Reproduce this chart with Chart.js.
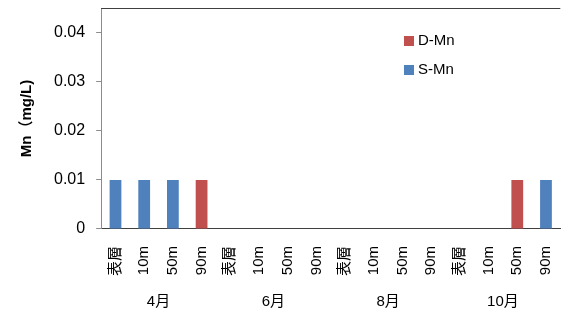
<!DOCTYPE html>
<html>
<head>
<meta charset="utf-8">
<script src="https://cdn.jsdelivr.net/npm/chart.js@4/dist/chart.umd.min.js"></script>
<style>
  html, body { margin: 0; padding: 0; background: #fff; }
  #wrap { width: 573px; height: 312px; }
</style>
</head>
<body>
<div id="wrap"><canvas id="mnChart" width="573" height="312"></canvas></div>
<script>
const depths = ['表層', '10m', '50m', '90m'];
const months = ['4月', '6月', '8月', '10月'];
const categories = months.flatMap(() => depths);
// values in mg/L, one per month/depth
const sMn = [0.01, 0.01, 0.01, 0, 0, 0, 0, 0, 0, 0, 0, 0, 0, 0, 0, 0.01];
const dMn = [0, 0, 0, 0.01, 0, 0, 0, 0, 0, 0, 0, 0, 0, 0, 0.01, 0];
const yTicks = [0, 0.01, 0.02, 0.03, 0.04];

const fontMain = "'Liberation Sans', 'Noto Sans CJK JP', sans-serif";
const axisColor = '#8c8c8c';
const frameColor = '#404040';

// legend drawn at a fixed spot inside the plot, like the original
const boxLegend = {
    id: 'boxLegend',
    afterDraw(chart) {
        const ctx = chart.ctx;
        const items = chart.data.datasets.slice().reverse();
        ctx.save();
        ctx.font = '15px ' + fontMain;
        ctx.textBaseline = 'middle';
        items.forEach((ds, i) => {
            const y = 41 + i * 29;
            ctx.fillStyle = ds.backgroundColor;
            ctx.fillRect(404, y - 5, 10, 10);
            ctx.fillStyle = '#000';
            ctx.fillText(ds.label, 418, y);
        });
        ctx.restore();
    }
};

const topBorder = {
    id: 'topBorder',
    afterDraw(chart) {
        const { ctx, chartArea } = chart;
        ctx.save();
        ctx.strokeStyle = frameColor;
        ctx.lineWidth = 1;
        ctx.beginPath();
        ctx.moveTo(chartArea.left, chartArea.top + 0.5);
        ctx.lineTo(chartArea.right, chartArea.top + 0.5);
        ctx.stroke();
        ctx.restore();
    }
};

new Chart(document.getElementById('mnChart'), {
    type: 'bar',
    data: {
        labels: categories,
        datasets: [
            { label: 'S-Mn', data: sMn, backgroundColor: '#4F81BD' },
            { label: 'D-Mn', data: dMn, backgroundColor: '#C0504D' }
        ]
    },
    options: {
        responsive: false,
        animation: false,
        layout: { padding: { top: 8, right: 1, left: 18, bottom: 1 } },
        datasets: { bar: { barPercentage: 0.41, categoryPercentage: 1 } },
        plugins: {
            legend: { display: false },
            tooltip: { enabled: false }
        },
        scales: {
            x: {
                stacked: true,
                grid: { display: false },
                border: { color: frameColor },
                ticks: {
                    minRotation: 90, maxRotation: 90, autoSkip: false,
                    color: '#000', padding: 9,
                    font: { family: fontMain, size: 15 }
                }
            },
            x2: {
                type: 'category',
                labels: months,
                position: 'bottom',
                grid: { display: false },
                border: { display: false },
                ticks: { color: '#000', padding: 0, font: { family: fontMain, size: 15 } }
            },
            y: {
                stacked: true,
                min: 0,
                max: 0.045,
                afterBuildTicks(scale) {
                    scale.ticks = yTicks.map(v => ({ value: v }));
                },
                afterFit(scale) {
                    scale.paddingTop = 0;
                },
                grid: { drawOnChartArea: false, tickLength: 5, color: axisColor },
                border: { color: axisColor },
                ticks: {
                    color: '#000', padding: 11,
                    font: { family: fontMain, size: 16 },
                    callback: v => v === 0 ? '0' : v.toFixed(2)
                },
                title: {
                    display: true,
                    text: 'Mn（mg/L)',
                    color: '#000',
                    padding: { top: 0, bottom: 7 },
                    font: { family: fontMain, size: 15, weight: 'bold' }
                }
            }
        }
    },
    plugins: [boxLegend, topBorder]
});
</script>
</body>
</html>
